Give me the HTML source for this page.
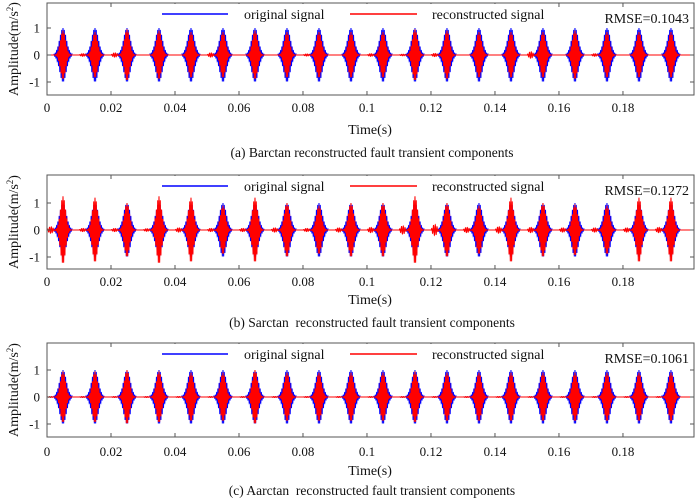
<!DOCTYPE html>
<html><head><meta charset="utf-8">
<style>
body{margin:0;background:#fff;}
svg{display:block;font-family:"Liberation Serif",serif;}
</style></head>
<body>
<svg id="c" width="700" height="499" viewBox="0 0 700 499"></svg>
<script>
const xTicks=[0,0.02,0.04,0.06,0.08,0.1,0.12,0.14,0.16,0.18];
const xTickLabels=["0","0.02","0.04","0.06","0.08","0.1","0.12","0.14","0.16","0.18"];
const yTicks=[-1,0,1];
const yTickLabels=["-1","0","1"];
const burstCenters=[0.005,0.015,0.025,0.035,0.045,0.055,0.065,0.075,0.085,0.095,0.105,0.115,0.125,0.135,0.145,0.155,0.165,0.175,0.185,0.195];
const origPeaks=[1.0,1.0,1.0,1.0,1.0,1.0,1.0,1.0,1.0,1.0,1.0,1.0,1.0,1.0,1.0,1.0,1.0,1.0,1.0,1.0];
const reconPeaksA=[0.9,0.85,0.95,0.9,0.85,0.85,0.9,0.85,0.85,0.85,0.85,0.95,0.9,0.85,0.85,0.85,0.9,0.85,0.85,0.85];
const reconPeaksB=[1.25,1.2,1.0,1.25,1.2,0.9,1.2,1.0,0.9,1.0,1.0,1.25,1.0,0.9,1.2,1.0,0.95,0.9,1.2,1.2];
const reconPeaksC=[0.95,0.95,1.0,0.95,0.9,0.9,1.0,0.9,0.9,0.9,0.9,0.95,0.9,0.9,0.9,0.9,0.9,0.9,0.9,0.9];
const rippleA=[0,0.05,0.08,0,0,0.08,0,0,0.04,0,0.05,0.03,0.06,0,0,0.12,0,0.05,0,0];
const rippleB=[0.12,0.06,0.06,0.05,0.08,0.06,0.06,0.08,0.06,0.08,0.1,0.15,0.2,0.1,0.12,0.1,0.08,0.08,0.08,0.1];
const rippleC=[0.02,0.02,0.02,0.02,0.02,0.02,0.02,0.02,0.02,0.02,0.02,0.02,0.02,0.02,0.02,0.02,0.02,0.02,0.02,0.02];
const rmse=["RMSE=0.1043","RMSE=0.1272","RMSE=0.1061"];
const captions=["(a) Barctan reconstructed fault transient components","(b) Sarctan\u00a0 reconstructed fault transient components","(c) Aarctan\u00a0 reconstructed fault transient components"];
const reconSets=[reconPeaksA,reconPeaksB,reconPeaksC];
const rippleSets=[rippleA,rippleB,rippleC];

const NS="http://www.w3.org/2000/svg";
const svg=document.getElementById('c');
function mk(tag,attrs,parent){const e=document.createElementNS(NS,tag);for(const k in attrs)e.setAttribute(k,attrs[k]);(parent||svg).appendChild(e);return e;}
const L=47,R=694,XMAX=0.2022;
const panels=[{zero:55,top:3,bot:95,tl:112,tt:134,cap:157},{zero:230,top:175,bot:269,tl:286,tt:304,cap:327},{zero:397,top:343,bot:437,tl:456,tt:475,cap:495}];
function sx(t){return L+(t/XMAX)*(R-L);}

function signal(t,peaks,ripples,isOrig){
  let v=0;
  const sig=isOrig?0.00105:0.0008;
  for(let i=0;i<burstCenters.length;i++){
    const d=t-burstCenters[i];
    if(d>-0.0028&&d<0.0028){
      const env=Math.exp(-(d*d)/(2*sig*sig));
      v+=peaks[i]*env*Math.sin(2*Math.PI*2500*(d+0.0001));
    }
    if(!isOrig&&ripples[i]>0){
      const d2=t-(burstCenters[i]-0.0038);
      if(d2>-0.0012&&d2<0.0012){v+=ripples[i]*Math.cos(Math.PI*d2/0.0024)*Math.sin(2*Math.PI*1800*d2);}
    }
  }
  return v;
}

panels.forEach((p,pi)=>{
  const g=mk('g',{});
  
  
  const sy=v=>p.zero-v*27;
  const clipId='clip'+pi;
  const cp=mk('clipPath',{id:clipId},g);mk('rect',{x:L,y:p.top,width:R-L,height:p.bot-p.top},cp);
  ['orig','recon'].forEach(kind=>{
    let pts=[];
    for(let t=0;t<=XMAX;t+=0.00002){
      const v=kind==='orig'?signal(t,origPeaks,null,true):signal(t,reconSets[pi],rippleSets[pi],false);
      pts.push(sx(t).toFixed(2)+','+sy(v).toFixed(2));
    }
    const pl=mk('polyline',{points:pts.join(' '),fill:'none',stroke:kind==='orig'?'#0000ff':'#ff0000','stroke-width':1,'clip-path':'url(#'+clipId+')'},g);
    
    
  });
  const fr=mk('rect',{x:L,y:p.top,width:R-L,height:p.bot-p.top,fill:'none',stroke:'#555','stroke-width':1},g);
  
  
  xTicks.forEach((t,i)=>{
    const x=sx(t);
    mk('line',{x1:x,x2:x,y1:p.bot,y2:p.bot-4,stroke:'#555'},g);
    mk('line',{x1:x,x2:x,y1:p.top,y2:p.top+4,stroke:'#555'},g);
    const tx=mk('text',{x:x,y:p.tl,'font-size':13,'text-anchor':'middle',fill:'#111'},g);
    tx.textContent=xTickLabels[i];
    
    
  });
  yTicks.forEach((v,i)=>{
    const y=sy(v);
    mk('line',{x1:L,x2:L+4,y1:y,y2:y,stroke:'#555'},g);
    mk('line',{x1:R,x2:R-4,y1:y,y2:y,stroke:'#555'},g);
    const tx=mk('text',{x:40,y:y+4.5,'font-size':13,'text-anchor':'end',fill:'#111'},g);
    tx.textContent=yTickLabels[i];
    
    
  });
  const yc=(p.top+p.bot)/2;
  const yl=mk('text',{x:0,y:0,'font-size':14,'text-anchor':'middle',fill:'#111',transform:'translate(18,'+yc+') rotate(-90)'},g);
  yl.innerHTML='Amplitude(m/s<tspan baseline-shift="super" font-size="9">2</tspan>)';
  
  
  const xl=mk('text',{x:370,y:p.tt,'font-size':14,'text-anchor':'middle',fill:'#111'},g);
  xl.textContent='Time(s)';
  
  
  const cap=mk('text',{x:372,y:p.cap,'font-size':13.5,'text-anchor':'middle',fill:'#111'},g);
  cap.textContent=captions[pi];
  
  
  const ly=p.top+11;
  const lg=mk('g',{},g);
  
  
  mk('rect',{x:155,y:p.top+1,width:380,height:19,fill:'#fff'},lg);
  mk('line',{x1:162,x2:228,y1:ly,y2:ly,stroke:'#0000ff','stroke-width':1.5},lg);
  const t1=mk('text',{x:244,y:ly+5,'font-size':14,fill:'#111'},lg);t1.textContent='original signal';
  
  
  mk('line',{x1:350,x2:417,y1:ly,y2:ly,stroke:'#ff0000','stroke-width':1.5},lg);
  const t2=mk('text',{x:432,y:ly+5,'font-size':14,fill:'#111'},lg);t2.textContent='reconstructed signal';
  
  
  const rt=mk('text',{x:689,y:ly+9,'font-size':14,'text-anchor':'end',fill:'#111'},g);
  rt.textContent=rmse[pi];
  
  
});
</script>
</body></html>
